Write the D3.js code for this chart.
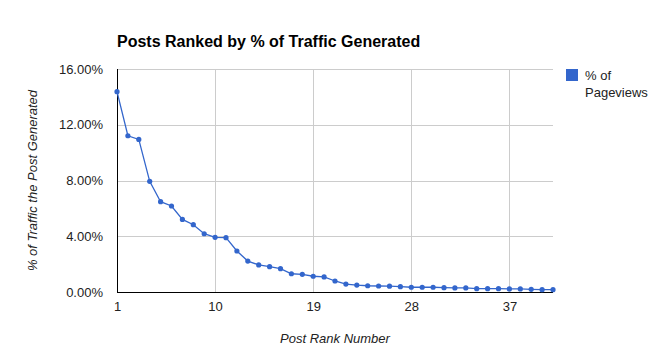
<!DOCTYPE html>
<html>
<head>
<meta charset="utf-8">
<script src="https://cdn.jsdelivr.net/npm/d3@7"></script>
<style>
  body { margin: 0; background: #fff; }
  text { font-family: Arial, "Liberation Sans", sans-serif; }
</style>
</head>
<body>
<div id="chart"></div>
<script>
// post rank 1..41 and share of pageviews (%)
const ranks = d3.range(1, 42);
const pageviews = [14.37, 11.21, 10.95, 7.94, 6.48, 6.17, 5.21, 4.83, 4.18, 3.92,
  3.90, 2.94, 2.22, 1.94, 1.82, 1.67, 1.31, 1.27, 1.13, 1.08,
  0.79, 0.57, 0.50, 0.45, 0.43, 0.42, 0.38, 0.34, 0.34, 0.34,
  0.31, 0.29, 0.29, 0.24, 0.24, 0.24, 0.22, 0.22, 0.19, 0.17, 0.17];
const xTicks = [1, 10, 19, 28, 37];
const yTicks = [0, 4, 8, 12, 16];

const fullWidth = 670, fullHeight = 361;
const margin = { top: 69, bottom: 69, left: 117, right: 117 };
const width = fullWidth - margin.left - margin.right;
const height = fullHeight - margin.top - margin.bottom;

const svg = d3.select("#chart").append("svg")
  .attr("width", fullWidth)
  .attr("height", fullHeight);

const g = svg.append("g")
  .attr("transform", "translate(" + margin.left + "," + margin.top + ")");

const x = d3.scaleLinear().domain([1, 41]).range([0, width]);
const y = d3.scaleLinear().domain([0, 16]).range([height, 0]);

// gridlines
g.selectAll(".hgrid").data(yTicks.filter(d => d > 0)).enter().append("line")
  .attr("x1", 0).attr("x2", width)
  .attr("y1", d => Math.round(y(d)) + 0.5).attr("y2", d => Math.round(y(d)) + 0.5)
  .attr("stroke", "#cccccc");
g.selectAll(".vgrid").data(xTicks.filter(d => d > 1)).enter().append("line")
  .attr("y1", 0).attr("y2", height)
  .attr("x1", d => Math.round(x(d)) + 0.5).attr("x2", d => Math.round(x(d)) + 0.5)
  .attr("stroke", "#cccccc");

// axes
const yAxis = g.append("g").call(d3.axisLeft(y).tickValues(yTicks).tickSize(0).tickPadding(14)
  .tickFormat(d => d.toFixed(2) + "%"));
yAxis.select(".domain").remove();
yAxis.selectAll("text").attr("font-size", 13).attr("fill", "#222");

const xAxis = g.append("g").attr("transform", "translate(0," + height + ")")
  .call(d3.axisBottom(x).tickValues(xTicks).tickSize(0).tickPadding(10).tickFormat(d3.format("d")));
xAxis.select(".domain").remove();
xAxis.selectAll("text").attr("font-size", 13).attr("fill", "#222");

g.append("line").attr("x1", 0.5).attr("x2", 0.5).attr("y1", 0).attr("y2", height + 1)
  .attr("stroke", "#000");
g.append("line").attr("x1", 0).attr("x2", width).attr("y1", height + 0.5).attr("y2", height + 0.5)
  .attr("stroke", "#000");

// series
const pts = ranks.map((r, i) => ({ r: r, v: pageviews[i] }));
const line = d3.line().x(d => x(d.r)).y(d => y(d.v));
g.append("path").datum(pts)
  .attr("fill", "none").attr("stroke", "#3366cc").attr("stroke-width", 1.3)
  .attr("d", line);
g.selectAll(".dot").data(pts).enter().append("circle")
  .attr("cx", d => x(d.r)).attr("cy", d => y(d.v)).attr("r", 2.6)
  .attr("fill", "#3366cc");

// title
svg.append("text").attr("x", 117).attr("y", 47)
  .attr("font-size", 16).attr("font-weight", "bold").attr("fill", "#000")
  .text("Posts Ranked by % of Traffic Generated");

// axis titles
svg.append("text").attr("x", margin.left + width / 2).attr("y", 343)
  .attr("text-anchor", "middle").attr("font-size", 13).attr("font-style", "italic").attr("fill", "#222")
  .text("Post Rank Number");
svg.append("text").attr("transform", "translate(37," + (margin.top + height / 2) + ") rotate(-90)")
  .attr("text-anchor", "middle").attr("font-size", 13).attr("font-style", "italic").attr("fill", "#222")
  .text("% of Traffic the Post Generated");

// legend
const legend = svg.append("g").attr("transform", "translate(566,69)");
legend.append("rect").attr("width", 12).attr("height", 12).attr("fill", "#3366cc");
legend.append("text").attr("x", 19).attr("y", 11).attr("font-size", 13).attr("fill", "#222").text("% of");
legend.append("text").attr("x", 19).attr("y", 28).attr("font-size", 13).attr("fill", "#222").text("Pageviews");
</script>
</body>
</html>
